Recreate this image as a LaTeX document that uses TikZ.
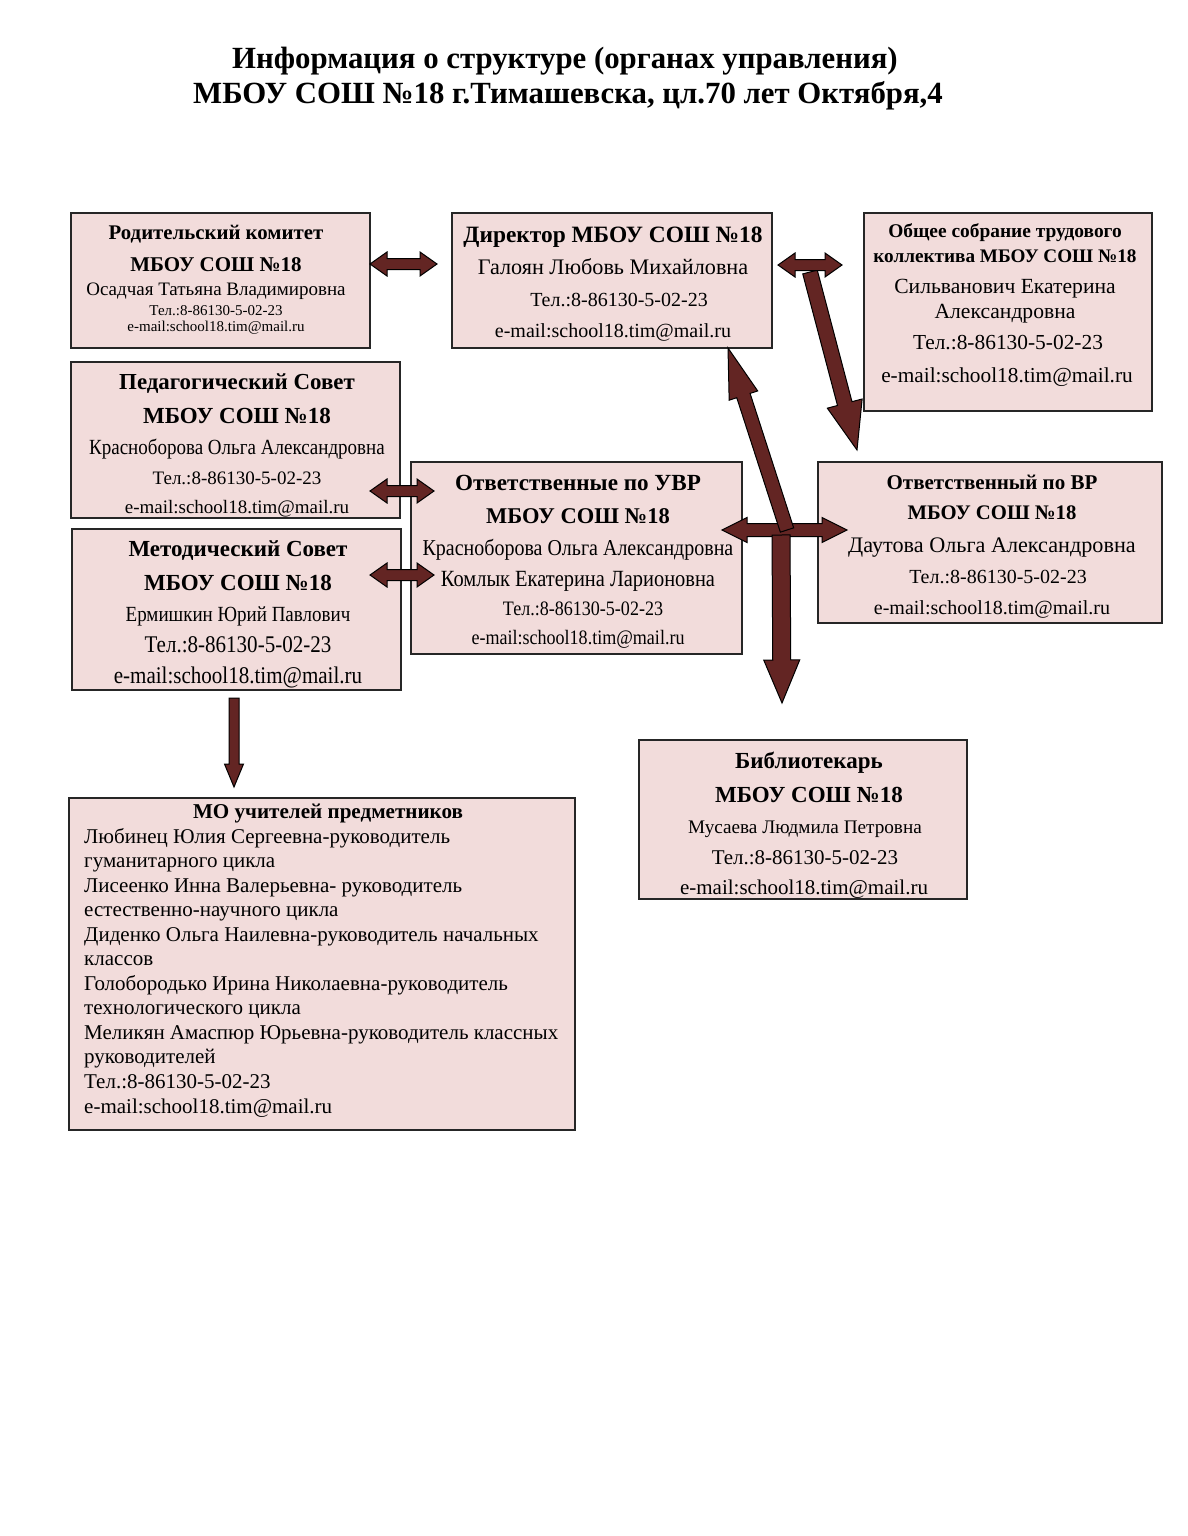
\documentclass[tikz,border=0pt]{standalone}
\usepackage{fontspec}
\setmainfont{Liberation Serif}
\newfontfamily\condfont[FakeStretch=0.88]{Liberation Serif}
\definecolor{boxfill}{HTML}{F2DCDB}
\definecolor{arrfill}{HTML}{632523}
\definecolor{boxline}{HTML}{262626}
\tikzset{
  box/.style={draw=boxline, line width=1.5pt, fill=boxfill, rectangle, inner sep=0pt, anchor=north west},
  arr/.style={draw=black, line width=1pt, fill=arrfill, line join=miter},
  tl/.style={anchor=base, inner sep=0pt, text=black},
  tlw/.style={anchor=base west, inner sep=0pt, text=black},
}
\newcommand\fs[1]{\fontsize{#1}{#1}\selectfont}
\newcommand\tline[5]{\node[tl] (#1) at (#2,#3) {\fs{#4}#5};}
\newcommand\bline[5]{\node[tl] (#1) at (#2,#3) {\fs{#4}\bfseries #5};}
\newcommand\ctline[5]{\node[tl] (#1) at (#2,#3) {\condfont\fs{#4}#5};}
\newcommand\wline[4]{\node[tlw] (#1) at (84,#2) {\fs{#3}#4};}
\newcommand\mybox[5]{\node[box, minimum width=#4pt, minimum height=#5pt] (#1) at (#2,#3) {};}
\newcommand\blockarr[6]{%
  \pgfpointanchor{#2}{center}\pgfgetlastxy\bax\bay
  \pgfpointanchor{#3}{center}\pgfgetlastxy\bbx\bby
  \pgfmathsetmacro\bang{atan2(\bby-\bay,\bbx-\bax)}%
  \pgfmathsetmacro\blen{veclen(\bbx-\bax,\bby-\bay)}%
  \begin{scope}[shift={(\bax,\bay)},rotate=\bang,x=1pt,y=1pt]
  \ifnum#1=1
   \draw[arr] (0,-#4/2) -- ({\blen-#6},-#4/2) -- ({\blen-#6},-#5/2) -- (\blen,0) -- ({\blen-#6},#5/2) -- ({\blen-#6},#4/2) -- (0,#4/2) -- cycle;
  \else
   \draw[arr] (0,0) -- (#6,-#5/2) -- (#6,-#4/2) -- ({\blen-#6},-#4/2) -- ({\blen-#6},-#5/2) -- (\blen,0) -- ({\blen-#6},#5/2) -- ({\blen-#6},#4/2) -- (#6,#4/2) -- (#6,#5/2) -- cycle;
  \fi
  \end{scope}}
\begin{document}
\begin{tikzpicture}[x=1pt,y=-1pt]
\useasboundingbox[fill=white] (0,0) rectangle (1187,1536);
% title
\bline{ti1}{565}{69}{30.8}{Информация о структуре (органах управления)}
\bline{ti2}{568}{104}{30.8}{МБОУ СОШ №18 г.Тимашевска, цл.70 лет Октября,4}
% boxes
\mybox{b1}{70}{212}{299}{135}
\mybox{b2}{451}{212}{320}{135}
\mybox{b3}{863}{212}{288}{198}
\mybox{b4}{70}{361}{329}{156}
\mybox{b5}{71}{528}{329}{161}
\mybox{b6}{410}{461}{331}{192}
\mybox{b7}{817}{461}{344}{161}
\mybox{b8}{638}{739}{328}{159}
\mybox{b9}{68}{797}{506}{332}
% box 1
\bline{t1a}{216}{239}{20.8}{Родительский комитет}
\bline{t1b}{216}{271}{21}{МБОУ СОШ №18}
\tline{t1c}{216}{295}{19}{Осадчая Татьяна Владимировна}
\tline{t1d}{216}{315}{15}{Тел.:8-86130-5-02-23}
\tline{t1e}{216}{331}{15}{e-mail:school18.tim@mail.ru}
% box 2
\bline{t2a}{613}{242}{23.4}{Директор МБОУ СОШ №18}
\tline{t2b}{613}{274}{22.2}{Галоян Любовь Михайловна}
\tline{t2c}{619}{306}{20}{Тел.:8-86130-5-02-23}
\tline{t2d}{613}{337}{20}{e-mail:school18.tim@mail.ru}
% box 3
\bline{t3a}{1005}{237}{19.4}{Общее собрание трудового}
\bline{t3b}{1005}{262}{19.2}{коллектива МБОУ СОШ №18}
\tline{t3c}{1005}{293}{21.6}{Сильванович Екатерина}
\tline{t3d}{1005}{318}{21.6}{Александровна}
\tline{t3e}{1008}{349}{21.4}{Тел.:8-86130-5-02-23}
\tline{t3f}{1007}{382}{21.3}{e-mail:school18.tim@mail.ru}
% box 4
\bline{t4a}{237}{389}{22.9}{Педагогический Совет}
\bline{t4b}{237}{423}{23}{МБОУ СОШ №18}
\ctline{t4c}{237}{454}{21.6}{Красноборова Ольга Александровна}
\tline{t4d}{237}{484}{19}{Тел.:8-86130-5-02-23}
\tline{t4e}{237}{513}{19}{e-mail:school18.tim@mail.ru}
% box 5
\bline{t5a}{238}{556}{23}{Методический Совет}
\bline{t5b}{238}{590}{23}{МБОУ СОШ №18}
\ctline{t5c}{238}{621}{21.6}{Ермишкин Юрий Павлович}
\ctline{t5d}{238}{652}{23.9}{Тел.:8-86130-5-02-23}
\ctline{t5e}{238}{683}{23.9}{e-mail:school18.tim@mail.ru}
% box 6
\bline{t6a}{578}{490}{23.1}{Ответственные по УВР}
\bline{t6b}{578}{523}{22.5}{МБОУ СОШ №18}
\ctline{t6c}{578}{555}{22.7}{Красноборова Ольга Александровна}
\ctline{t6d}{578}{586}{23.2}{Комлык Екатерина Ларионовна}
\ctline{t6e}{583}{615}{20.5}{Тел.:8-86130-5-02-23}
\ctline{t6f}{578}{644}{20.5}{e-mail:school18.tim@mail.ru}
% box 7
\bline{t7a}{992}{489}{21}{Ответственный по ВР}
\bline{t7b}{992}{519}{20.7}{МБОУ СОШ №18}
\tline{t7c}{992}{552}{22.2}{Даутова Ольга Александровна}
\tline{t7d}{998}{583}{20}{Тел.:8-86130-5-02-23}
\tline{t7e}{992}{614}{20}{e-mail:school18.tim@mail.ru}
% box 8
\bline{t8a}{809}{768}{23}{Библиотекарь}
\bline{t8b}{809}{802}{23}{МБОУ СОШ №18}
\tline{t8c}{805}{833}{19.2}{Мусаева Людмила Петровна}
\tline{t8d}{805}{864}{21}{Тел.:8-86130-5-02-23}
\tline{t8e}{804}{894}{21}{e-mail:school18.tim@mail.ru}
% box 9
\bline{t9a}{328}{818}{21.1}{МО учителей предметников}
\wline{t9b}{843}{21}{Любинец Юлия Сергеевна-руководитель}
\wline{t9c}{867}{21}{гуманитарного цикла}
\wline{t9d}{892}{21}{Лисеенко Инна Валерьевна- руководитель}
\wline{t9e}{916}{21}{естественно-научного цикла}
\wline{t9f}{941}{21}{Диденко Ольга Наилевна-руководитель начальных}
\wline{t9g}{965}{21}{классов}
\wline{t9h}{990}{21}{Голобородько Ирина Николаевна-руководитель}
\wline{t9i}{1014}{21}{технологического цикла}
\wline{t9j}{1039}{21}{Меликян Амаспюр Юрьевна-руководитель классных}
\wline{t9k}{1063}{21}{руководителей}
\wline{t9l}{1088}{21}{Тел.:8-86130-5-02-23}
\wline{t9m}{1113}{21}{e-mail:school18.tim@mail.ru}
% arrow end points
\coordinate (a1s) at (370,264); \coordinate (a1e) at (437,264);
\coordinate (a2s) at (778,265); \coordinate (a2e) at (842,265);
\coordinate (a7s) at (370,491); \coordinate (a7e) at (434,491);
\coordinate (a8s) at (370,575); \coordinate (a8e) at (434,575);
\coordinate (a5s) at (722,530); \coordinate (a5e) at (847,530);
\coordinate (a3s) at (810,272); \coordinate (a3e) at (857,450);
\coordinate (a4s) at (787,530); \coordinate (a4e) at (728,348);
\coordinate (a6s) at (781,535); \coordinate (a6e) at (782,703);
\coordinate (a9s) at (234,698); \coordinate (a9e) at (234,787);
% arrows
\blockarr{2}{a1s}{a1e}{11}{24}{17}
\blockarr{2}{a7s}{a7e}{11}{24}{17}
\blockarr{2}{a8s}{a8e}{11}{24}{17}
\blockarr{1}{a3s}{a3e}{15}{36}{48}
\blockarr{2}{a2s}{a2e}{11}{24}{17}
\blockarr{2}{a5s}{a5e}{13}{25}{25}
\blockarr{1}{a4s}{a4e}{14}{30}{50}
\blockarr{1}{a6s}{a6e}{18}{36}{43}
\blockarr{1}{a9s}{a9e}{10}{19}{23}
\end{tikzpicture}
\end{document}
